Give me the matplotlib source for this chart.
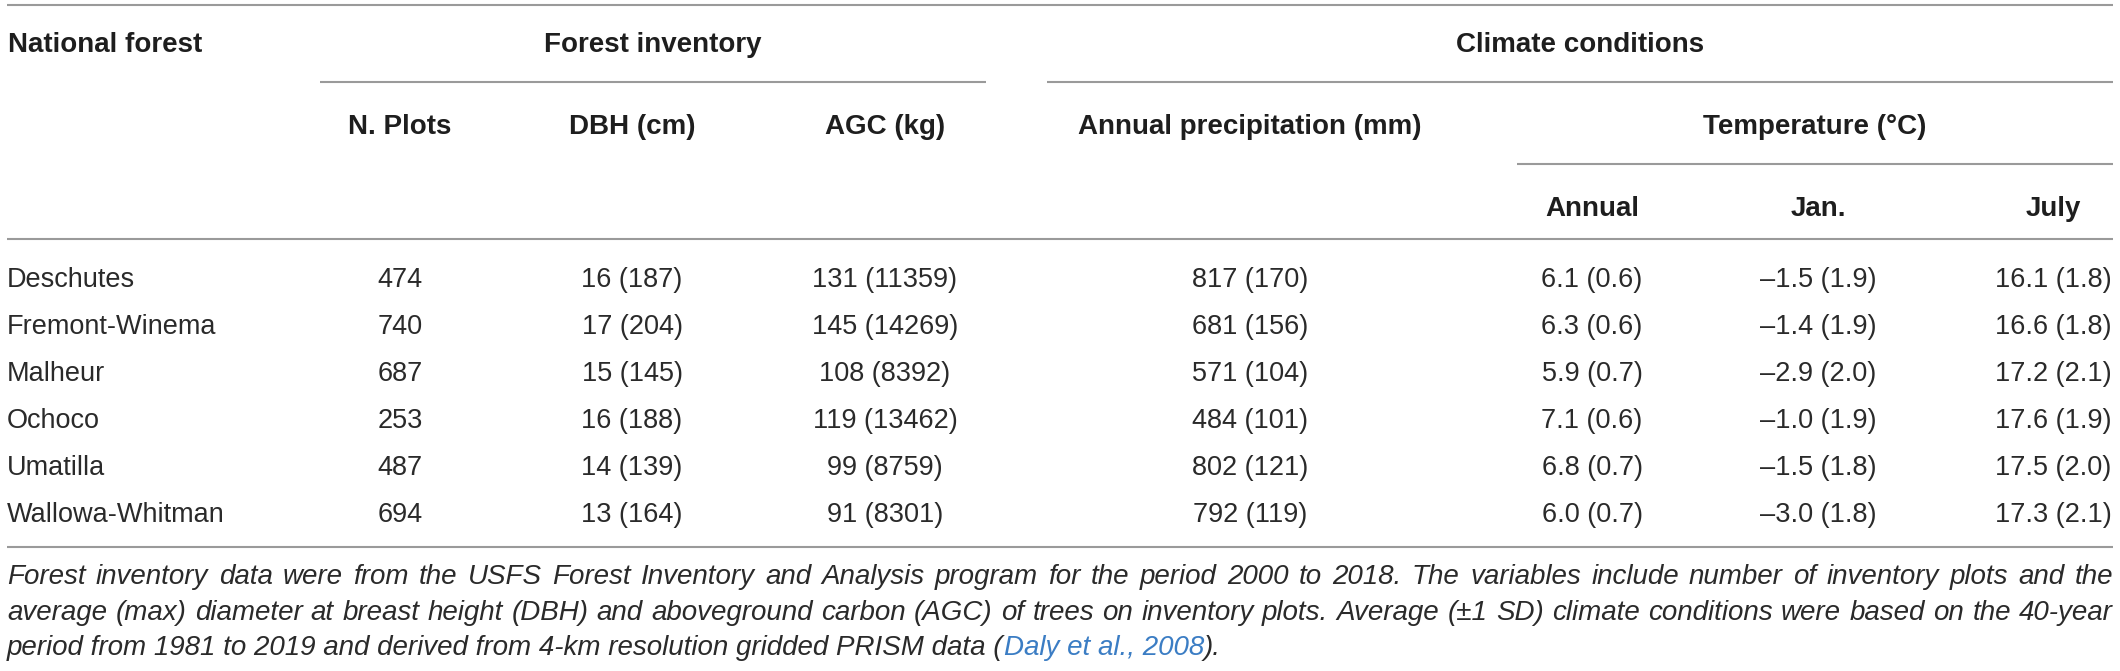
import matplotlib
matplotlib.use("Agg")
import matplotlib.pyplot as plt

plt.rcParams["font.family"] = ["Liberation Sans", "DejaVu Sans"]

# table data
forests = ["Deschutes", "Fremont-Winema", "Malheur", "Ochoco", "Umatilla", "Wallowa-Whitman"]
n_plots = [474, 740, 687, 253, 487, 694]
dbh_avg = [16, 17, 15, 16, 14, 13]
dbh_max = [187, 204, 145, 188, 139, 164]
agc_avg = [131, 145, 108, 119, 99, 91]
agc_max = [11359, 14269, 8392, 13462, 8759, 8301]
precip_avg = [817, 681, 571, 484, 802, 792]
precip_sd = [170, 156, 104, 101, 121, 119]
t_annual = [6.1, 6.3, 5.9, 7.1, 6.8, 6.0]
t_annual_sd = [0.6, 0.6, 0.7, 0.6, 0.7, 0.7]
t_jan = [-1.5, -1.4, -2.9, -1.0, -1.5, -3.0]
t_jan_sd = [1.9, 1.9, 2.0, 1.9, 1.8, 1.8]
t_july = [16.1, 16.6, 17.2, 17.6, 17.5, 17.3]
t_july_sd = [1.8, 1.8, 2.1, 1.9, 2.0, 2.1]

col_labels = ["N. Plots", "DBH (cm)", "AGC (kg)", "Annual precipitation (mm)"]
temp_labels = ["Annual", "Jan.", "July"]

caption_1 = ("Forest inventory data were from the USFS Forest Inventory and Analysis program for the "
             "period 2000 to 2018. The variables include number of inventory plots and the")
caption_2 = ("average (max) diameter at breast height (DBH) and aboveground carbon (AGC) of trees on "
             "inventory plots. Average (\u00b11 SD) climate conditions were based on the 40-year")
caption_3 = "period from 1981 to 2019 and derived from 4-km resolution gridded PRISM data ("
caption_ref = "Daly et al., 2008"
caption_end = ")."


def fmt(v):
    s = f"{v:.1f}"
    return s.replace("-", "\u2013")


W, H = 2120, 671
fig = plt.figure(figsize=(W / 100, H / 100), dpi=100)
ax = fig.add_axes([0, 0, 1, 1])
ax.set_xlim(0, W)
ax.set_ylim(H, 0)
ax.axis("off")

TXT = "#2a2a2a"
HDR = "#1e1e1e"
LINE = "#9a9a9a"
LW = 1.5
FS_HEAD = 20
FS_BODY = 19.5
FS_CAP = 20

left, right = 7, 2113
col_x = [400, 632, 885, 1250, 1592, 1818, 2053]

# rules
ax.hlines(5, left, right, color=LINE, lw=LW)
ax.hlines(82, 320, 986, color=LINE, lw=LW)
ax.hlines(82, 1047, right, color=LINE, lw=LW)
ax.hlines(164, 1517, right, color=LINE, lw=LW)
ax.hlines(239, left, right, color=LINE, lw=LW)
ax.hlines(547, left, right, color=LINE, lw=LW)

# header
hd = dict(fontsize=FS_HEAD, fontweight="bold", color=HDR, va="baseline")
ax.text(left + 1, 52, "National forest", ha="left", **hd)
ax.text(653, 52, "Forest inventory", ha="center", **hd)
ax.text(1580, 52, "Climate conditions", ha="center", **hd)
for x, lab in zip(col_x[:4], col_labels):
    ax.text(x, 134, lab, ha="center", **hd)
ax.text(1815, 134, "Temperature (\u00b0C)", ha="center", **hd)
for x, lab in zip(col_x[4:], temp_labels):
    ax.text(x, 216, lab, ha="center", **hd)

# body
bd = dict(fontsize=FS_BODY, color=TXT, va="baseline")
for i, name in enumerate(forests):
    y = 287 + 47 * i
    cells = [
        f"{n_plots[i]}",
        f"{dbh_avg[i]} ({dbh_max[i]})",
        f"{agc_avg[i]} ({agc_max[i]})",
        f"{precip_avg[i]} ({precip_sd[i]})",
        f"{fmt(t_annual[i])} ({fmt(t_annual_sd[i])})",
        f"{fmt(t_jan[i])} ({fmt(t_jan_sd[i])})",
        f"{fmt(t_july[i])} ({fmt(t_july_sd[i])})",
    ]
    ax.text(left, y, name, ha="left", **bd)
    for x, c in zip(col_x, cells):
        ax.text(x, y, c, ha="center", **bd)

# caption
cp = dict(fontsize=FS_CAP, style="italic", color=TXT, va="baseline", ha="left")
renderer = fig.canvas.get_renderer()


def justified(line, y):
    words = line.split(" ")
    objs = [ax.text(0, y, w, **cp) for w in words]
    widths = [o.get_window_extent(renderer).width for o in objs]
    gap = (right - left - sum(widths)) / (len(words) - 1)
    x = left
    for o, w in zip(objs, widths):
        o.set_x(x)
        x += w + gap


justified(caption_1, 584)
justified(caption_2, 620)
t3 = ax.text(left, 655, caption_3, **cp)
x = left + t3.get_window_extent(renderer).width
tr = ax.text(x, 655, caption_ref, **dict(cp, color="#3b7dc4"))
x += tr.get_window_extent(renderer).width
ax.text(x, 655, caption_end, **cp)

fig.savefig("out.png", dpi=100)
